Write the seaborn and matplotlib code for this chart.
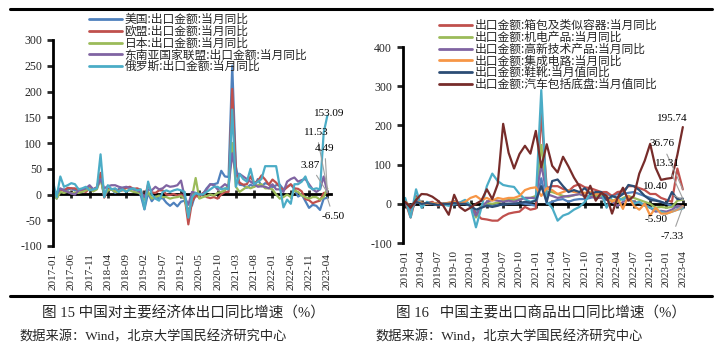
import numpy as np
import pandas as pd
import matplotlib
matplotlib.use("Agg")
import matplotlib.pyplot as plt
from matplotlib.lines import Line2D
import seaborn as sns

# ---------------- data: left chart (2017-01 .. 2023-04) ----------------
left_months = pd.date_range("2017-01", periods=76, freq="MS").strftime("%Y-%m").tolist()
us = [5, -8, 8, 10, 9, 12, 8, 11, 8, 11, 15, 10,
      12, 35, -5, 9, 11, 3, 11, 13, 14, 13, 10, 10,
      -2, -29, 3, -13, -4, -8, -7, -16, -22, -16, -23, -14,
      -12, -30, -21, 3, 1, 1, 12, 20, 20, 22, 46, 35,
      34, 250, 54, 19, 18, 13, 19, 15, 30, 16, 22, 20,
      14, 18, 19, 10, 15, 19, 11, -4, 0, -13, -26, -20,
      -22, -30, -8, -6.50]
eu = [2, 4, 10, 7, 13, 12, 12, 8, 7, 5, 12, 10,
      14, 42, -6, 11, 9, 10, 7, 8, 13, 15, 11, 12,
      9, -9, 20, 4, 3, 8, 8, 0, -1, 1, -2, 0,
      -5, -58, -14, -3, -5, 3, -5, -7, -5, -8, 0, 5,
      5, 205, 42, 23, 19, 20, 35, 22, 26, 37, 29, 19,
      29, 23, 15, 8, 14, 20, 12, 11, 6, -9, -11, -17,
      -14, -12, 3, 3.87]
japan = [8, -8, 5, 3, 6, 2, 4, 3, 5, 8, 12, 6,
         10, 30, 0, 8, 10, 5, 6, 9, 7, 8, 5, 4,
         2, -10, 5, -8, -5, -2, -5, -5, -8, -6, -5, -3,
         -8, -40, -5, 32, -8, -5, -3, 0, -2, 3, 5, 8,
         20, 100, 15, 5, 10, 15, 12, 15, 18, 20, 12, 12,
         10, 0, -8, -5, 0, -5, 8, 5, -2, -5, -8, -5,
         -5, -10, -5, 11.53]
asean = [5, 0, 12, 8, 5, 2, 0, 8, 10, 12, 18, 10,
         14, 30, 12, 16, 18, 18, 15, 13, 15, 13, 10, 8,
         4, -5, 10, 8, 15, 10, 12, 18, 15, 16, 18, 27,
         -5, -20, 5, 3, 0, 1, 10, 20, 18, 10, 14, 20,
         15, 80, 40, 40, 35, 30, 25, 20, 15, 16, 15, 12,
         20, 10, 10, 5, 25, 30, 33, 25, 28, 30, 20, 10,
         5, 10, 35, 4.49]
russia = [25, -5, 35, 15, 18, 22, 20, 10, 12, 15, 8, 10,
          12, 78, -5, 18, 10, 12, 5, 10, 5, 10, 12, 8,
          10, -28, 25, 0, -8, -12, 5, 8, 5, 8, 10, 8,
          5, -45, -5, 3, 0, 0, 5, 10, 15, 15, 10, 12,
          10, 165, 15, 40, 30, 25, 50, 20, 25, 30, 55, 55,
          55, 55, 15, -25, -10, -18, 20, 20, 25, 35, 15, 10,
          12, 10, 120, 153.09]
left_names = ["美国:出口金额:当月同比", "欧盟:出口金额:当月同比", "日本:出口金额:当月同比",
              "东南亚国家联盟:出口金额:当月同比", "俄罗斯:出口金额:当月同比"]
left_series = [us, eu, japan, asean, russia]
left_colors = ["#4F81BD", "#C0504D", "#9BBB59", "#8064A2", "#4BACC6"]

# ---------------- data: right chart (2019-01 .. 2023-04) ----------------
right_months = pd.date_range("2019-01", periods=52, freq="MS").strftime("%Y-%m").tolist()
other_a = [10, -20, 5, 0, 2, 0, -2, 0, -3, -2, 0, 0,
           -5, -25, -5, -3, -5, -3, -2, 0, 0, 2, 0, -2,
           -5, 65, 0, 5, 10, 12, 5, 10, 12, 12, 15, 20,
           25, 25, 20, 25, 25, 28, 30, 25, 20, 15, 10, 5,
           0, -5, -10, -8]
bags = [5, -35, 20, 0, 2, 5, -5, 0, 2, 5, 0, 3,
        -5, -25, -38, -40, -43, -43, -32, -25, -22, -20, -8, -15,
        -12, 230, 40, 45, 45, 38, 32, 45, 50, 42, 40, 35,
        30, 30, 20, 30, 32, 45, 45, 40, 35, 25, 25, 15,
        10, 5, 90, 36.76]
mech = [5, -20, 15, 0, 2, 0, 3, 0, -2, 0, 2, 5,
        -2, -35, -5, 2, 0, 3, 8, 10, 10, 12, 15, 15,
        20, 150, 30, 30, 25, 20, 18, 22, 25, 20, 20, 20,
        20, 15, 10, 5, 15, 20, 15, 10, 5, 0, -10, -8,
        -10, -8, 8, 10.40]
hitech = [3, -15, 10, -2, 0, 0, 2, 0, -3, 0, 3, 5,
          -5, -30, -8, 5, 10, 8, 5, 8, 5, 10, 15, 15,
          15, 100, 25, 20, 15, 18, 20, 22, 25, 20, 18, 15,
          15, 10, 5, -5, 5, 10, 5, 2, -2, -10, -20, -18,
          -20, -15, -5, -7.33]
other_b = [15, -35, 37, -10, 5, 0, -3, -2, -5, 0, 3, 10,
           -5, -60, -10, 45, 77, 58, 48, 45, 43, 25, 12, 5,
           10, 290, 5, -10, -43, -30, -25, -15, -8, 5, 25, 25,
           30, -10, 20, 15, 10, 20, 0, 5, -5, -10, -15, -20,
           -25, -20, -15, -12]
chips = [5, -5, 5, 3, 0, 2, 0, 0, 3, 5, 0, 5,
         15, 20, 10, 15, 8, 15, 12, 15, 15, 20, 35, 40,
         42, 20, 40, 35, 25, 30, 35, 30, 30, 28, 30, 25,
         25, 20, 5, 15, -13, 20, -5, -15, 0, -30, -10, -25,
         -25, -20, -15, -5.90]
shoes = [2, -5, 5, 0, 2, 0, -3, 0, 0, 2, 0, 0,
         -5, -15, -10, -5, -8, -5, 0, 0, 0, 2, 5, 3,
         8, 45, 5, 58, 62, 45, 30, 35, 30, 40, 25, 30,
         30, 10, 20, 15, 25, 48, 45, 35, 20, 10, 8, 5,
         0, 30, 12, 13.31]
cars = [5, -10, 10, 25, 24, 18, 8, -5, -28, 23, -8, -18,
        -10, 0, 8, 37, 12, 50, 204, 130, 90, 127, 148, 128,
        186, 93, 152, 97, 80, 120, 95, 67, 45, 15, 46, 8,
        28, 20, -25, 15, 41, 8, 20, 77, 110, 153, 92, 61,
        64, 66, 125, 195.74]
right_names = [None, "出口金额:箱包及类似容器:当月同比", "出口金额:机电产品:当月同比",
               "出口金额:高新技术产品:当月同比", None, "出口金额:集成电路:当月同比",
               "出口金额:鞋靴:当月值同比", "出口金额:汽车包括底盘:当月值同比"]
right_series = [other_a, bags, mech, hitech, other_b, chips, shoes, cars]
right_colors = ["#4F81BD", "#C0504D", "#9BBB59", "#8064A2", "#4BACC6", "#F79646",
                "#2C4D75", "#772C2A"]

# end-of-series labels: (text, text x, text y)
left_labels = [("153.09", 75.6, 157), ("11.53", 72.0, 121), ("4.49", 74.3, 90),
               ("3.87", 70.3, 57), ("-6.50", 76.6, -43)]
left_targets = [153.09, 11.53, 4.49, 3.87, -6.50]
right_labels = [("195.74", 49.0, 217), ("36.76", 47.2, 153), ("13.31", 48.1, 102),
                ("10.40", 46.0, 43), ("-5.90", 46.0, -41), ("-7.33", 49.0, -84)]
right_targets = [195.74, 36.76, 13.31, 10.40, -5.90, -7.33]

# ---------------- style ----------------
sns.set_style("white")
plt.rcParams["font.family"] = ["Liberation Serif", "Noto Sans CJK SC"]
plt.rcParams["axes.unicode_minus"] = False

fig = plt.figure(figsize=(7.21, 3.51), dpi=100)
W, H = 721, 351


def px_axes(x0, y0, x1, y1):
    return fig.add_axes([x0 / W, 1 - y1 / H, (x1 - x0) / W, (y1 - y0) / H])


def style_axes(ax, ylim, yticks, months, step, zero_frac):
    ax.set_ylim(*ylim)
    ax.set_yticks(yticks)
    ticks = list(range(0, len(months), step))
    ax.set_xticks(ticks)
    ax.set_xticklabels([months[i] for i in ticks], rotation=90, fontsize=8)
    ax.tick_params(axis="x", length=0, pad=5)
    ax.tick_params(axis="y", direction="out", length=4, width=2, labelsize=8.5, pad=4,
                   left=True)
    for s in ["top", "right", "bottom"]:
        ax.spines[s].set_visible(False)
    ax.spines["left"].set_linewidth(2)
    ax.spines["left"].set_color("black")
    ax.set_xlabel("")
    ax.set_ylabel("")
    ax.grid(False)
    sec = ax.secondary_xaxis(zero_frac)
    sec.set_xticks(ticks)
    sec.tick_params(direction="inout", length=6, width=2, labelbottom=False)
    sec.spines["bottom"].set_linewidth(2)
    sec.spines["bottom"].set_color("black")


def add_legend(ax, x_px, y_px):
    leg = ax.legend(loc="upper left", bbox_to_anchor=(x_px / W, 1 - y_px / H),
                    bbox_transform=fig.transFigure, frameon=False, fontsize=8.5,
                    handlelength=2.8, handletextpad=0.2, labelspacing=-0.1,
                    borderpad=0, borderaxespad=0)
    for t in leg.get_texts():
        t.set_family(["Noto Sans CJK SC", "DejaVu Sans"])
    for h in leg.get_lines():
        h.set_linewidth(2)


# ---------------- left chart ----------------
ax1 = px_axes(53, 40, 331, 246)
x1 = np.arange(len(left_months))
for vals, name, col in zip(left_series, left_names, left_colors):
    sns.lineplot(x=x1, y=vals, color=col, lw=1.6, label=name, ax=ax1)
ax1.set_xlim(0, 76)
style_axes(ax1, (-100, 300), range(-100, 301, 50), left_months, 5, 0.25)
for (txt, tx, ty), tv in zip(left_labels, left_targets):
    ax1.annotate(txt, xy=(75, tv), xytext=(tx, ty), ha="center", va="center",
                 fontsize=8, color="black", annotation_clip=False,
                 arrowprops=None if txt == "153.09" else
                 dict(arrowstyle="-", color="#A0A0A0", lw=0.8, shrinkA=2, shrinkB=0))
add_legend(ax1, 89, 13)

# ---------------- right chart ----------------
ax2 = px_axes(403, 47, 685, 243)
x2 = np.arange(len(right_months))
for vals, name, col in zip(right_series, right_names, right_colors):
    sns.lineplot(x=x2, y=vals, color=col, lw=1.6,
                 label=name if name else "_nolegend_", ax=ax2)
ax2.set_xlim(-0.4, 51.4)
style_axes(ax2, (-100, 400), range(-100, 401, 100), right_months, 3, 0.2)
for (txt, tx, ty), tv in zip(right_labels, right_targets):
    ax2.annotate(txt, xy=(51, tv), xytext=(tx, ty), ha="center", va="center",
                 fontsize=8, color="black", annotation_clip=False,
                 arrowprops=None if txt == "195.74" else
                 dict(arrowstyle="-", color="#A0A0A0", lw=0.8, shrinkA=2, shrinkB=0))
add_legend(ax2, 439, 19)

# ---------------- frame lines and captions ----------------
fig.add_artist(Line2D([10 / W, 712 / W], [1 - 9 / H, 1 - 9 / H], color="black", lw=2.2,
                      transform=fig.transFigure))
fig.add_artist(Line2D([10 / W, 712 / W], [1 - 296 / H, 1 - 296 / H], color="black", lw=2.2,
                      transform=fig.transFigure))
fig.text(183 / W, 1 - 313 / H, "图 15 中国对主要经济体出口同比增速（%）", ha="center",
         va="center", fontsize=10.5)
fig.text(541 / W, 1 - 313 / H, "图 16   中国主要出口商品出口同比增速（%）", ha="center",
         va="center", fontsize=10.5)
fig.text(19 / W, 1 - 337 / H, "数据来源：Wind，北京大学国民经济研究中心", ha="left",
         va="center", fontsize=9.5)
fig.text(375 / W, 1 - 337 / H, "数据来源：Wind，北京大学国民经济研究中心", ha="left",
         va="center", fontsize=9.5)

fig.savefig("out.png", dpi=100)
